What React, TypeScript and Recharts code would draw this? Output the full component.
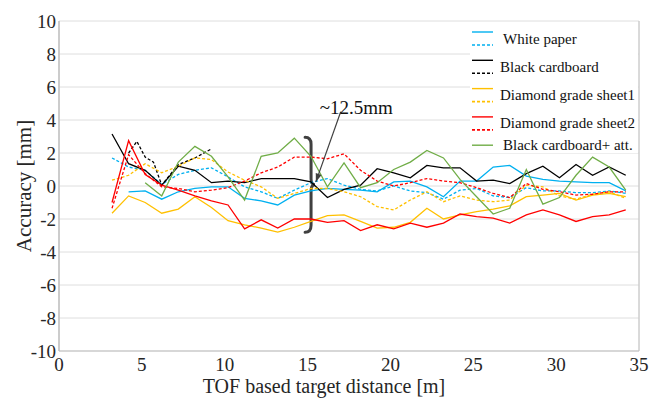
import React from 'react';
import {
    LineChart,
    Line,
    XAxis,
    YAxis,
    CartesianGrid,
    ReferenceLine,
    ReferenceArea
} from 'recharts';

// measured distances [m]
const distances = [
    3.2, 4.2, 5.2, 6.2, 7.2, 8.2, 9.2, 10.2, 11.2, 12.2, 13.2, 14.2, 15.2, 16.2, 17.2, 18.2,
    19.2, 20.2, 21.2, 22.2, 23.2, 24.2, 25.2, 26.2, 27.2, 28.2, 29.2, 30.2, 31.2, 32.2, 33.2, 34.2
];

// accuracy [mm], solid = first run, dashed = second run
const whitePaper = [
    null, -0.35, -0.3, -0.8, -0.35, -0.15, -0.05, -0.05, -0.75, -0.9, -1.15, -0.55, -0.3, -0.15, -0.2, -0.25,
    -0.35, 0.25, 0.3, -0.05, -0.65, 0.3, 0.3, 1.15, 1.25, 0.6, 0.4, 0.3, 0.25, 0.2, 0.2, -0.3
];
const whitePaper2 = [
    1.7, 1.15, 0.95, 0.1, 0.7, 0.95, 1.1, 0.55, -0.05, -0.35, -0.75, -0.25, 0.2, 0.45, 0.05, -0.2,
    -0.3, 0.0, -0.3, -0.4, -0.8, -0.25, -0.15, -0.6, -0.7, -0.1, -0.3, -0.3, -0.4, -0.4, -0.3, -0.45
];
const blackCardboard = [
    3.15, 1.35, 0.95, 0.05, 1.2, 0.95, 0.2, 0.3, 0.2, 0.45, 0.45, 0.45, 0.25, -0.7, -0.2, 0.05,
    1.05, 0.8, 0.5, 1.25, 1.1, 1.1, 0.3, 0.35, 0.15, 0.75, 1.2, 0.5, 1.3, 0.65, 1.15, 0.65
];
const blackCardboard2X = [4.2, 4.7, 5.2, 5.7, 6.2, 7.2, 8.2, 9.2];
const blackCardboard2 = [2.0, 2.7, 1.75, 1.45, 0.05, 1.3, 1.7, 2.25];
const diamondSheet1 = [
    -1.65, -0.6, -1.0, -1.65, -1.4, -0.65, -1.3, -2.1, -2.35, -2.55, -2.8, -2.5, -2.15, -1.8, -1.75, -2.15,
    -2.55, -2.5, -2.2, -1.35, -2.0, -1.75, -1.55, -1.4, -1.2, -0.65, -0.55, -0.45, -0.85, -0.55, -0.45, -0.65
];
const diamondSheet1b = [
    0.35, 0.65, 1.35, 0.8, 1.2, 1.7, 1.6, 0.85, 0.35, -0.05, -0.75, -0.45, -0.15, -0.15, -0.35, -0.65,
    -1.25, -1.45, -0.85, -0.35, -0.95, -0.6, -0.85, -0.95, -0.85, 0.05, -0.05, -0.6, -0.8, -0.5, -0.35, -0.75
];
const diamondSheet2 = [
    -1.0, 2.75, 0.7, 0.05, -0.25, -0.6, -0.9, -1.15, -2.6, -2.05, -2.55, -2.0, -2.0, -2.2, -2.1, -2.7,
    -2.35, -2.6, -2.25, -2.5, -2.25, -1.7, -1.85, -1.95, -2.25, -1.75, -1.45, -1.75, -2.15, -1.85, -1.75, -1.45
];
const diamondSheet2b = [
    -1.35, 1.9, 0.75, -0.05, -0.15, -0.35, -0.25, -0.1, 0.3, 0.8, 1.15, 1.75, 1.75, 1.65, 1.95, 0.95,
    0.3, 0.0, 0.2, 0.45, 0.3, 0.2, -0.1, -0.45, -0.7, 0.15, -0.2, -0.35, -0.55, -0.5, -0.35, -0.35
];
const blackCardboardAtt = [
    null, null, 0.2, -0.6, 1.45, 2.4, 1.8, 0.55, -0.85, 1.8, 2.0, 2.9, 1.8, -0.05, 1.4, -0.1,
    0.2, 1.0, 1.45, 2.15, 1.7, 0.4, -0.65, -1.7, -1.35, 1.0, -1.1, -0.7, 0.65, 1.75, 1.15, -0.25
];

const xTicks = [0, 5, 10, 15, 20, 25, 30, 35];
const yTicks = [-10, -8, -6, -4, -2, 0, 2, 4, 6, 8, 10];
const gridX = [1, 4, 5, 6, 7, 8, 11, 12, 13, 15, 16, 18, 19, 23, 24, 25, 26, 29, 30, 31, 34, 35];
const majorGridX = [5, 30];

const SERIF = '"Liberation Serif", "Times New Roman", serif';

const toPoints = (xs: number[], ys: (number | null)[]) =>
    xs.map((x, i) => ({ x, y: ys[i] })).filter((p) => p.y !== null);

const series = [
    { key: 'wp1', data: toPoints(distances, whitePaper), color: '#00b0f0', dashed: false },
    { key: 'wp2', data: toPoints(distances, whitePaper2), color: '#00b0f0', dashed: true },
    { key: 'bc1', data: toPoints(distances, blackCardboard), color: '#000000', dashed: false },
    { key: 'bc2', data: toPoints(blackCardboard2X, blackCardboard2), color: '#000000', dashed: true },
    { key: 'd11', data: toPoints(distances, diamondSheet1), color: '#ffc000', dashed: false },
    { key: 'd12', data: toPoints(distances, diamondSheet1b), color: '#ffc000', dashed: true },
    { key: 'd21', data: toPoints(distances, diamondSheet2), color: '#ff0000', dashed: false },
    { key: 'd22', data: toPoints(distances, diamondSheet2b), color: '#ff0000', dashed: true },
    { key: 'att', data: toPoints(distances, blackCardboardAtt), color: '#70ad47', dashed: false }
];

const legendItems = [
    { label: 'White paper', color: '#00b0f0', pair: true, dx: 33 },
    { label: 'Black cardboard', color: '#000000', pair: true, dx: 30 },
    { label: 'Diamond grade sheet1', color: '#ffc000', pair: true, dx: 30 },
    { label: 'Diamond grade sheet2', color: '#ff0000', pair: true, dx: 30 },
    { label: 'Black cardboard+ att.', color: '#70ad47', pair: false, dx: 33 }
];

const LegendBox = () => (
    <svg width={168} height={130} style={{ background: '#ffffff', display: 'block' }}>
        {legendItems.map((item, i) => {
            const top = 9 + i * 28.3;
            const textY = item.pair ? top + 6.5 : top;
            return (
                <g key={item.label}>
                    <line x1={2} x2={23} y1={top} y2={top} stroke={item.color} strokeWidth={1.4} />
                    {item.pair && (
                        <line x1={2} x2={23} y1={top + 13} y2={top + 13} stroke={item.color}
                            strokeWidth={1.6} strokeDasharray="3 2" />
                    )}
                    <text x={item.dx} y={textY + 5} fontFamily={SERIF} fontSize={15} fill="#111">
                        {item.label}
                    </text>
                </g>
            );
        })}
    </svg>
);

const Bracket = (props: any) => {
    const { x, y, width, height } = props;
    const l = x;
    const r = x + width;
    const m = x + width * 0.6;
    const b = y + height;
    const mid = y + height / 2;
    const d = `M ${l} ${y} Q ${m} ${y} ${m} ${y + 7} L ${m} ${mid - 6} Q ${m} ${mid} ${r} ${mid} `
        + `Q ${m} ${mid} ${m} ${mid + 6} L ${m} ${b - 7} Q ${m} ${b} ${l} ${b}`;
    return <path d={d} fill="none" stroke="#404040" strokeWidth={3} strokeLinecap="round" />;
};

const Arrow = (props: any) => {
    const { x1, y1, x2, y2 } = props;
    const ang = Math.atan2(y2 - y1, x2 - x1);
    const len = 9;
    const spread = 0.35;
    const p1 = `${x2 - len * Math.cos(ang - spread)},${y2 - len * Math.sin(ang - spread)}`;
    const p2 = `${x2 - len * Math.cos(ang + spread)},${y2 - len * Math.sin(ang + spread)}`;
    return (
        <g>
            <line x1={x1} y1={y1} x2={x2} y2={y2} stroke="#404040" strokeWidth={1.2} />
            <polygon points={`${x2},${y2} ${p1} ${p2}`} fill="#404040" />
            <text x={x1 - 21} y={y1 + 2} fontFamily={SERIF} fontSize={19} fill="#111">~12.5mm</text>
        </g>
    );
};

const App: React.FC = () => {
    return (
        <div style={{ position: 'absolute', left: 0, top: 0, width: 652, height: 398, background: '#fff' }}>
            <LineChart width={652} height={398} margin={{ top: 21, right: 13, left: 0, bottom: 0 }}>
                <CartesianGrid xAxisId="grid" stroke="#dedede" strokeWidth={1} />
                <CartesianGrid xAxisId="major" horizontal={false} stroke="#c4c4c4" strokeWidth={1} />
                <XAxis xAxisId="grid" type="number" dataKey="x" domain={[0, 35]} ticks={gridX} hide />
                <XAxis xAxisId="major" type="number" dataKey="x" domain={[0, 35]} ticks={majorGridX} hide />
                <XAxis
                    type="number"
                    dataKey="x"
                    domain={[0, 35]}
                    ticks={xTicks}
                    interval={0}
                    height={47}
                    tickLine={false}
                    tickSize={0}
                    tickMargin={7}
                    axisLine={{ stroke: '#bfbfbf' }}
                    tick={{ fontSize: 19, fontFamily: SERIF, fill: '#262626' }}
                    label={{
                        value: 'TOF based target distance [m]',
                        position: 'insideBottom',
                        offset: 5,
                        dx: -25,
                        style: { fontSize: 20, fontFamily: SERIF, fill: '#262626' }
                    }}
                />
                <YAxis
                    type="number"
                    domain={[-10, 10]}
                    ticks={yTicks}
                    interval={0}
                    width={59}
                    tickLine={false}
                    tickSize={0}
                    tickMargin={3}
                    axisLine={{ stroke: '#bfbfbf' }}
                    tick={{ fontSize: 19, fontFamily: SERIF, fill: '#262626' }}
                    label={{
                        value: 'Accuracy [mm]',
                        angle: -90,
                        position: 'insideLeft',
                        offset: 24,
                        style: { textAnchor: 'middle', fontSize: 21, fontFamily: SERIF, fill: '#262626' }
                    }}
                />
                {series.map((s) => (
                    <Line
                        key={s.key}
                        data={s.data}
                        dataKey="y"
                        type="linear"
                        stroke={s.color}
                        strokeWidth={1.3}
                        strokeDasharray={s.dashed ? '3 2' : undefined}
                        dot={false}
                        activeDot={false}
                        isAnimationActive={false}
                    />
                ))}
                <ReferenceArea x1={14.85} x2={15.45} y1={-2.8} y2={2.95} shape={Bracket} />
                <ReferenceLine segment={[{ x: 17.0, y: 4.5 }, { x: 15.5, y: 0.25 }]} shape={Arrow} />
            </LineChart>
            <div style={{ position: 'absolute', left: 470, top: 23 }}>
                <LegendBox />
            </div>
        </div>
    );
};

export default App;
